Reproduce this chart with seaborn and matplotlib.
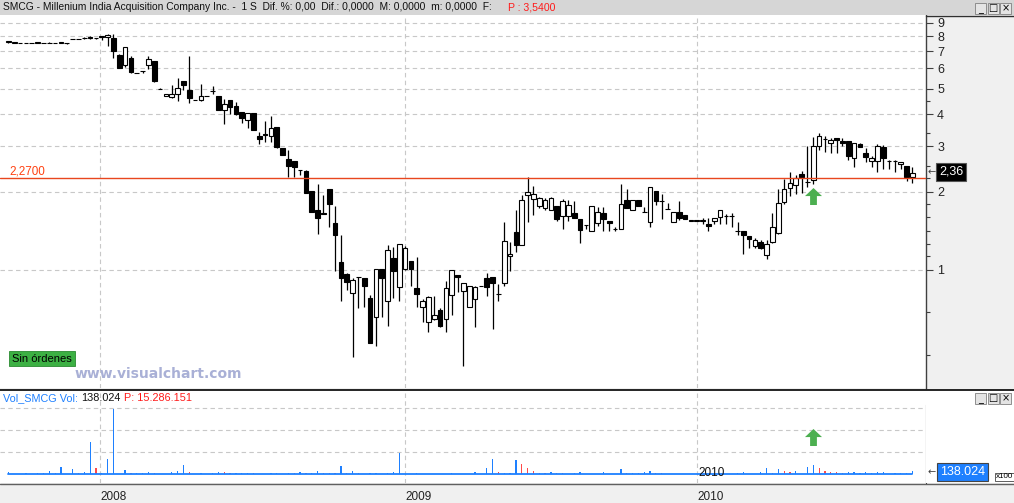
import numpy as np
import pandas as pd
import matplotlib
matplotlib.use("Agg")
import matplotlib.pyplot as plt
from matplotlib.patches import Rectangle
from matplotlib.lines import Line2D
from matplotlib.ticker import FixedLocator, NullFormatter
import seaborn as sns

# Velas semanales de SMCG (sep 2007 - sep 2010)
apertura = [
    7.62, 7.55, 7.53, 7.52, 7.52, 7.55, 7.52, 7.55, 7.52, 7.55,
    7.50, 7.80, 7.80, 7.87, 7.90, 7.85, 7.96, 7.95, 7.85, 6.76,
    6.16, 6.59, 5.78, 5.85, 6.16, 6.40, 5.01, 4.70, 4.64, 4.80,
    5.38, 4.94, 4.53, 4.52, 4.70, 4.89, 4.70, 4.13, 4.53, 4.30,
    4.07, 3.81, 4.03, 3.29, 3.35, 3.30, 3.56, 2.96, 2.68, 2.63,
    2.43, 2.41, 2.02, 1.71, 1.66, 2.05, 1.52, 1.07, 0.965, 0.813,
    0.937, 0.93, 0.78, 0.657, 1.01, 0.757, 1.11, 0.857, 1.006, 1.08,
    0.852, 0.72, 0.627, 0.646, 0.70, 0.645, 0.803, 0.96, 0.827, 0.718,
    0.77, 0.867, 0.93, 0.94, 0.806, 0.893, 1.13, 1.40, 1.245, 1.94,
    1.88, 1.76, 1.74, 1.71, 1.76, 1.62, 1.62, 1.66, 1.57, 1.49,
    1.42, 1.52, 1.66, 1.55, 1.44, 1.44, 1.86, 1.70, 1.86, 1.67,
    1.53, 2.01, 1.84, 1.72, 1.53, 1.67, 1.63, 1.55, 1.55, 1.55,
    1.50, 1.54, 1.60, 1.61, 1.61, 1.41, 1.41, 1.35, 1.24, 1.28,
    1.14, 1.28, 1.39, 1.83, 2.07, 2.13, 2.35, 2.18, 2.22, 3.00,
    3.21, 3.10, 3.22, 3.15, 3.15, 2.70, 3.07, 2.82, 2.64, 2.63,
    2.99, 2.64, 2.64, 2.57, 2.53, 2.28]
maximo = [
    7.62, 7.55, 7.53, 7.52, 7.53, 7.62, 7.53, 7.62, 7.53, 7.62,
    7.50, 7.80, 7.80, 7.95, 7.98, 7.86, 7.97, 8.12, 8.15, 6.80,
    7.24, 6.70, 5.78, 5.86, 6.70, 6.40, 5.02, 4.77, 5.18, 5.51,
    5.38, 6.68, 4.54, 5.22, 4.71, 5.14, 4.70, 4.56, 4.53, 4.45,
    4.07, 4.03, 4.03, 3.40, 3.77, 3.94, 3.56, 2.96, 2.91, 2.63,
    2.44, 2.43, 2.02, 2.15, 1.95, 2.06, 1.77, 1.36, 0.97, 0.93,
    0.94, 0.93, 0.80, 1.01, 1.01, 1.25, 1.23, 1.26, 1.24, 1.08,
    1.12, 0.77, 0.79, 0.79, 0.715, 0.906, 1.0, 0.96, 0.889, 0.865,
    0.87, 0.868, 0.97, 0.94, 0.885, 1.53, 1.28, 1.71, 1.95, 2.28,
    2.11, 1.92, 1.90, 1.91, 1.76, 1.88, 1.86, 1.85, 1.57, 1.49,
    1.76, 1.75, 1.75, 1.55, 1.47, 2.15, 2.05, 1.86, 1.86, 1.75,
    2.09, 2.02, 1.97, 1.81, 1.67, 1.85, 1.63, 1.55, 1.55, 1.59,
    1.58, 1.59, 1.71, 1.64, 1.66, 1.53, 1.41, 1.35, 1.33, 1.31,
    1.31, 1.66, 2.05, 2.25, 2.38, 2.33, 2.40, 3.01, 3.27, 3.39,
    3.30, 3.23, 3.23, 3.22, 3.15, 3.08, 3.08, 2.96, 2.76, 3.06,
    3.05, 2.65, 2.65, 2.62, 2.53, 2.50]
minimo = [
    7.52, 7.55, 7.49, 7.50, 7.50, 7.50, 7.50, 7.50, 7.50, 7.50,
    7.48, 7.78, 7.78, 7.80, 7.82, 7.82, 7.70, 7.35, 6.56, 6.02,
    6.10, 5.78, 5.76, 5.75, 5.97, 5.33, 4.99, 4.70, 4.60, 4.51,
    4.95, 4.42, 4.52, 4.50, 4.69, 4.77, 4.15, 3.66, 4.00, 3.96,
    3.70, 3.52, 3.48, 3.07, 3.12, 3.13, 2.97, 2.79, 2.29, 2.29,
    2.33, 1.98, 1.68, 1.38, 1.64, 1.47, 0.99, 0.76, 0.84, 0.46,
    0.71, 0.72, 0.52, 0.51, 0.66, 0.61, 0.78, 0.76, 1.0, 0.87,
    0.72, 0.63, 0.578, 0.64, 0.60, 0.578, 0.67, 0.82, 0.427, 0.718,
    0.60, 0.866, 0.79, 0.589, 0.76, 0.87, 0.99, 1.17, 1.245, 1.53,
    1.63, 1.73, 1.70, 1.70, 1.54, 1.44, 1.54, 1.58, 1.27, 1.44,
    1.42, 1.48, 1.42, 1.42, 1.42, 1.44, 1.74, 1.70, 1.76, 1.67,
    1.47, 1.78, 1.57, 1.72, 1.53, 1.56, 1.57, 1.55, 1.55, 1.51,
    1.42, 1.51, 1.50, 1.50, 1.46, 1.36, 1.15, 1.22, 1.22, 1.20,
    1.10, 1.27, 1.38, 1.80, 1.93, 1.97, 1.98, 2.09, 2.15, 2.91,
    2.85, 2.84, 2.84, 3.00, 2.66, 2.50, 2.99, 2.61, 2.50, 2.38,
    2.45, 2.45, 2.38, 2.45, 2.21, 2.16]
cierre = [
    7.62, 7.55, 7.50, 7.51, 7.52, 7.55, 7.52, 7.53, 7.52, 7.55,
    7.50, 7.80, 7.80, 7.87, 7.90, 7.85, 7.96, 8.10, 6.98, 6.05,
    7.24, 5.83, 5.76, 5.85, 6.51, 5.36, 5.00, 4.77, 4.80, 5.04,
    5.16, 4.60, 4.53, 4.70, 4.70, 4.89, 4.15, 4.37, 4.25, 4.00,
    3.87, 4.03, 3.48, 3.19, 3.31, 3.54, 2.98, 2.79, 2.53, 2.49,
    2.43, 1.98, 1.68, 1.59, 1.65, 1.80, 1.37, 0.934, 0.90, 0.912,
    0.937, 0.87, 0.52, 1.01, 0.93, 1.19, 0.994, 1.26, 1.22, 1.01,
    0.81, 0.757, 0.787, 0.67, 0.61, 0.852, 1.0, 0.94, 0.889, 0.865,
    0.86, 0.867, 0.862, 0.889, 0.806, 1.29, 1.15, 1.245, 1.86, 2.0,
    1.97, 1.89, 1.86, 1.89, 1.57, 1.84, 1.78, 1.59, 1.43, 1.49,
    1.76, 1.68, 1.57, 1.52, 1.44, 1.80, 1.74, 1.86, 1.76, 1.67,
    2.09, 1.84, 1.84, 1.72, 1.67, 1.59, 1.57, 1.55, 1.55, 1.55,
    1.48, 1.59, 1.71, 1.61, 1.61, 1.41, 1.36, 1.32, 1.30, 1.22,
    1.26, 1.46, 1.81, 2.05, 2.16, 2.26, 2.28, 2.18, 3.01, 3.29,
    3.21, 3.18, 3.17, 3.09, 2.76, 3.08, 2.99, 2.72, 2.70, 3.01,
    2.70, 2.64, 2.64, 2.61, 2.29, 2.36]

# volumen en unidades de x100
volumen = [
    700, 0, 0, 600, 0, 600, 600, 1500, 600, 3300,
    0, 2100, 600, 1000, 14400, 2900, 600, 7000, 29700, 0,
    2000, 600, 600, 600, 1000, 600, 0, 0, 1000, 1500,
    4200, 1000, 0, 600, 0, 600, 1000, 1000, 600, 600,
    600, 600, 600, 0, 0, 600, 600, 0, 600, 600,
    1000, 600, 600, 1500, 600, 600, 600, 3800, 600, 1500,
    600, 0, 600, 600, 0, 600, 1000, 9700, 0, 0,
    600, 0, 0, 0, 0, 0, 600, 0, 0, 0,
    1000, 0, 2900, 7000, 1000, 600, 600, 6500, 4700, 2600,
    1500, 600, 600, 1000, 600, 600, 0, 600, 1000, 0,
    0, 0, 1000, 0, 0, 2400, 600, 600, 600, 1000,
    1500, 600, 600, 0, 0, 0, 0, 0, 0, 0,
    0, 0, 0, 0, 0, 600, 1000, 0, 0, 1000,
    2900, 600, 2400, 1500, 1000, 1500, 0, 3300, 4200, 2900,
    1500, 1000, 1000, 600, 1000, 1000, 600, 1000, 600, 1000,
    1000, 0, 600, 600, 600, 1380]
semanas_rojas = [8, 12, 15, 21, 25, 31, 37, 38, 42, 49, 51, 54, 55, 56, 58, 60,
                 84, 88, 89, 90, 91, 92, 94, 95, 106, 111, 112, 131, 133, 134,
                 139, 140, 141, 142, 143]

pos_anios = [15.69, 68.07, 118.05]
etiquetas_anios = ["2008", "2009", "2010"]
ticks_precio = [1, 2, 3, 4, 5, 6, 7, 8, 9]
ticks_precio_menores = [0.47, 0.69, 1.13, 1.26, 1.42, 1.6, 1.8, 2.27, 2.51, 3.37, 4.5]
ticks_vol = [10000, 20000, 30000]
ticks_vol_menores = [5000, 15000, 25000]
nivel_linea = 2.27
semana_flecha = 138

df = pd.DataFrame({"open": apertura, "high": maximo, "low": minimo, "close": cierre})
df["semana"] = np.arange(len(df))
df_vol = pd.DataFrame({"semana": np.arange(len(volumen)), "volumen": volumen})
df_vol["tipo"] = np.where(df_vol["semana"].isin(semanas_rojas), "baja", "alta")

sns.set_style("white")
plt.rcParams["font.family"] = ["Liberation Sans", "DejaVu Sans"]

W, H = 1014, 503


def fx(x):
    return x / W


def fy(y):
    return 1 - y / H


def caja(x0, y0, x1, y1):
    return [x0 / W, 1 - y1 / H, (x1 - x0) / W, (y1 - y0) / H]


fig = plt.figure(figsize=(W / 100, H / 100), dpi=100, facecolor="#f0f0f0")

# escala x: indice de semana -> pixel 8.5 + 5.832*i
x_lim = (-8.5 / 5.832, (926 - 8.5) / 5.832)
gris_grid = "#c8c8c8"
punteado = (0, (4, 3))
flecha = [(0, 1), (-1, 0.05), (-0.4, 0.05), (-0.4, -1),
          (0.4, -1), (0.4, 0.05), (1, 0.05), (0, 1)]

# ---- panel principal (velas, escala log) ----
ax = fig.add_axes(caja(0, 15, 926, 388))
ax.set_facecolor("white")
ax.set_yscale("log")

ax.vlines(df["semana"], df["low"], df["high"], color="black", lw=0.9, zorder=2)
cuerpo_bajo = df[["open", "close"]].min(axis=1)
cuerpo_alto = df[["open", "close"]].max(axis=1)
alto = np.maximum(cuerpo_alto - cuerpo_bajo, cuerpo_bajo * 0.002)
relleno = np.where(df["close"] >= df["open"], "white", "black")
ax.bar(df["semana"], alto, bottom=cuerpo_bajo, width=0.8, color=relleno,
       edgecolor="black", linewidth=0.8, zorder=3)

ax.axhline(nivel_linea, color="#e8461e", lw=1.0, zorder=4)
ax.scatter([semana_flecha], [1.93], marker=flecha, s=150, color="#4caf50",
           zorder=5, linewidths=0)

ax.set_xlim(*x_lim)
ax.set_ylim(0.350, 9.65)
ax.set_xticks(pos_anios)
ax.tick_params(axis="x", length=0, labelbottom=False)
ax.yaxis.tick_right()
ax.set_yticks(ticks_precio)
ax.set_yticklabels([str(t) for t in ticks_precio])
ax.yaxis.set_minor_locator(FixedLocator(ticks_precio_menores))
ax.yaxis.set_minor_formatter(NullFormatter())
ax.tick_params(axis="y", which="major", direction="out", length=5, width=0.8,
               color="#404040", labelcolor="#222222", labelsize=9, pad=3)
ax.tick_params(axis="y", which="minor", direction="out", length=3, width=0.8,
               color="#404040")
ax.grid(True, which="major", color=gris_grid, lw=0.8, linestyle=punteado)
for lado in ["top", "left", "bottom"]:
    ax.spines[lado].set_visible(False)
ax.spines["right"].set_color("#404040")
ax.spines["right"].set_linewidth(1.0)

# ---- panel de volumen ----
fig.add_artist(Rectangle((fx(926), fy(483)), fx(1014) - fx(926), fy(390) - fy(483),
                         transform=fig.transFigure, facecolor="white", edgecolor="none"))
axv = fig.add_axes(caja(0, 390, 926, 483))
axv.set_facecolor("white")
sns.barplot(data=df_vol, x="semana", y="volumen", hue="tipo",
            palette={"alta": "#1e80ff", "baja": "#ff4a4a"}, native_scale=True,
            dodge=False, width=0.22, saturation=1, errorbar=None, legend=False,
            linewidth=0, ax=axv)
axv.plot([df_vol["semana"].min(), df_vol["semana"].max()], [0, 0], color="#1e80ff", lw=1.3)
axv.scatter([semana_flecha], [16800], marker=flecha, s=150, color="#4caf50",
            zorder=5, linewidths=0)
axv.set_xlim(*x_lim)
axv.set_ylim(-4100, 38300)
axv.set_xlabel("")
axv.set_ylabel("")
axv.yaxis.tick_right()
axv.set_yticks(ticks_vol)
axv.set_yticklabels([f"{t:,}".replace(",", ".") for t in ticks_vol])
axv.yaxis.set_minor_locator(FixedLocator(ticks_vol_menores))
axv.tick_params(axis="y", which="major", direction="out", length=5, width=0.8,
                color="#404040", labelcolor="#222222", labelsize=9, pad=3)
axv.tick_params(axis="y", which="minor", direction="out", length=3, width=0.8,
                color="#404040")
axv.set_xticks(pos_anios)
axv.set_xticklabels(etiquetas_anios)
axv.tick_params(axis="x", direction="out", length=7, width=0.8, color="#404040",
                labelcolor="#222222", labelsize=8.5, pad=-1.5)
for t in axv.get_xticklabels():
    t.set_ha("left")
axv.grid(True, which="major", color=gris_grid, lw=0.8, linestyle=punteado)
for lado in ["top", "left", "bottom"]:
    axv.spines[lado].set_visible(False)
axv.spines["right"].set_color("#404040")
axv.spines["right"].set_bounds(-4100, 31500)

# ---- bordes, barra de titulo y textos ----
fig.add_artist(Line2D([0, 1], [fy(389.5), fy(389.5)], color="black", lw=1.2))
fig.add_artist(Line2D([0, 1], [fy(483.5), fy(483.5)], color="#606060", lw=1.0))
fig.add_artist(Line2D([fx(926), 1], [fy(15.5), fy(15.5)], color="#303030", lw=1.0))
fig.add_artist(Rectangle((0, fy(15)), 1, 15 / H, transform=fig.transFigure,
                         facecolor="#d6d6d6", edgecolor="none"))
fig.text(fx(3), fy(7.5), "SMCG - Millenium India Acquisition Company Inc. -  1 S  Dif. %: 0,00  "
         "Dif.: 0,0000  M: 0,0000  m: 0,0000  F:", fontsize=7.4, va="center", color="#111111")
fig.text(fx(508), fy(7.5), "P : 3,5400", fontsize=7.6, va="center", color="#ff1a1a")

for fila in [(3, 14), (393, 404)]:
    for k, simbolo in enumerate(["_", "□", "×"]):
        x0 = 975 + k * 12.5
        fig.add_artist(Rectangle((fx(x0), fy(fila[1])), 11 / W, (fila[1] - fila[0]) / H,
                                 transform=fig.transFigure, facecolor="#e4e4e4",
                                 edgecolor="#808080", lw=0.6))
        fig.text(fx(x0 + 5.5), fy((fila[0] + fila[1]) / 2), simbolo, fontsize=7,
                 ha="center", va="center", color="black", family=["DejaVu Sans"])

fig.text(fx(9), fy(171), "2,2700", fontsize=8.4, va="center", color="#ff4010")
fig.text(fx(928), fy(172), "←", fontsize=7, va="center", color="#404040",
         family=["DejaVu Sans"])
fig.text(fx(939), fy(172), "2,36", fontsize=9, va="center", color="white",
         bbox=dict(boxstyle="square,pad=0.25", facecolor="black", edgecolor="#555555", lw=0.8))

fig.text(fx(12), fy(358.5), "Sin órdenes", fontsize=8, va="center", color="black",
         bbox=dict(boxstyle="square,pad=0.25", facecolor="#3cb043", edgecolor="#2a8a30", lw=0.6))
fig.text(fx(75), fy(374), "www.visualchart.com", fontsize=10, fontweight="bold",
         va="center", color="#a9b0d6", family=["DejaVu Sans"])

fig.text(fx(3), fy(398), "Vol_SMCG Vol:", fontsize=7.8, va="center", color="#1e80ff")
fig.text(fx(81), fy(398), "138.024", fontsize=7.8, va="center", color="#111111")
fig.text(fx(124), fy(398), "P: 15.286.151", fontsize=7.8, va="center", color="#ff1a1a")
fig.text(fx(698), fy(473), "2010", fontsize=8.5, va="center", color="#111111")

fig.text(fx(928), fy(472), "←", fontsize=7, va="center", color="#404040",
         family=["DejaVu Sans"])
fig.text(fx(940), fy(472), "138.024", fontsize=9, va="center", color="white",
         bbox=dict(boxstyle="square,pad=0.25", facecolor="#1e80ff", edgecolor="#444444", lw=0.8))
fig.text(fx(996), fy(477), "x100", fontsize=5.8, va="center", color="black",
         bbox=dict(boxstyle="square,pad=0.1", facecolor="white", edgecolor="#444444", lw=0.6))

fig.savefig("out.png", dpi=100, facecolor=fig.get_facecolor())
